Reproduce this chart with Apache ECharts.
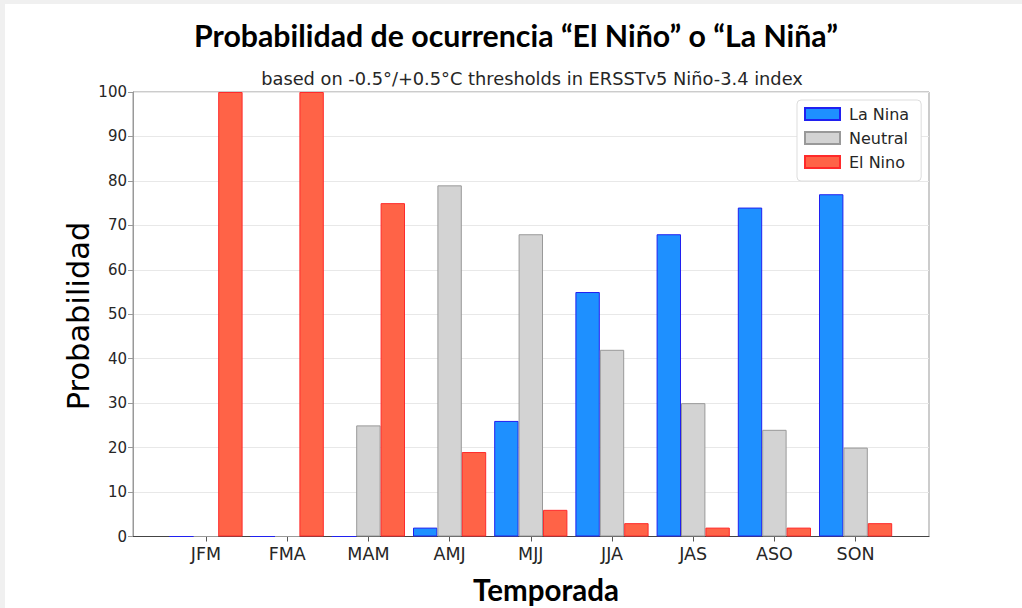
<!DOCTYPE html>
<html><head><meta charset="utf-8">
<script src="https://cdn.jsdelivr.net/npm/echarts@6/dist/echarts.min.js"></script>
<style>
html,body{margin:0;padding:0;background:#f0f0f0;}
#bg{position:absolute;left:5px;top:4px;width:1017px;height:604px;background:#fff;}
#c{position:absolute;left:0;top:0;width:1022px;height:608px;}
</style>
</head><body><div id="bg"></div><div id="c"></div>
<script>
const categories = ['JFM','FMA','MAM','AMJ','MJJ','JJA','JAS','ASO','SON'];
const laNina  = [0, 0, 0, 2, 26, 55, 68, 74, 77];
const neutral = [0, 0, 25, 79, 68, 42, 30, 24, 20];
const elNino  = [100, 100, 75, 19, 6, 3, 2, 2, 3];
const yMin = 0, yMax = 100, yStep = 10;

const chart = echarts.init(document.getElementById('c'), null, {renderer: 'svg'});
const gTop = 92, gBottom = 608 - 536.5;

chart.setOption({
  animation: false,
  backgroundColor: 'transparent',
  grid: [
    {left: 133, right: 1022 - 929, top: gTop, bottom: gBottom, show: true, borderColor: '#999', borderWidth: 1, containLabel: false},
    {left: 165.4, right: 1022 - 896.2, top: gTop, bottom: gBottom, containLabel: false}
  ],
  xAxis: [
    {gridIndex: 0, type: 'value', min: 0, max: 1, show: true,
     axisLine: {show: true, onZero: false, lineStyle: {color: '#444', width: 1}},
     axisTick: {show: false}, axisLabel: {show: false}, splitLine: {show: false}},
    {gridIndex: 1, type: 'category', data: categories, boundaryGap: true,
     axisLine: {show: false},
     axisTick: {show: true, alignWithLabel: true, length: 5, lineStyle: {color: '#555'}},
     axisLabel: {margin: 8, fontFamily: 'DejaVu Sans', fontSize: 17.5, color: '#262626'},
     splitLine: {show: false}}
  ],
  yAxis: [
    {gridIndex: 0, type: 'value', min: yMin, max: yMax, interval: yStep,
     axisLine: {show: true, lineStyle: {color: '#999'}},
     axisTick: {show: true, length: 5, lineStyle: {color: '#999'}},
     axisLabel: {margin: 6, fontFamily: 'DejaVu Sans', fontSize: 15, color: '#262626'},
     splitLine: {show: true, lineStyle: {color: '#e8e8e8', width: 1}}},
    {gridIndex: 1, type: 'value', min: yMin, max: yMax, interval: yStep, show: false}
  ],
  legend: {
    orient: 'vertical', left: 797, top: 100,
    icon: 'rect',
    itemWidth: 35, itemHeight: 12, itemGap: 8,
    padding: [6, 12, 11, 7],
    backgroundColor: '#fff', borderColor: '#ddd', borderWidth: 1, borderRadius: 4,
    textStyle: {fontFamily: 'DejaVu Sans', fontSize: 16, color: '#262626', padding: [0, 0, 0, 4]},
    data: ['La Nina', 'Neutral', 'El Nino']
  },
  series: [
    {name: 'La Nina', type: 'bar', xAxisIndex: 1, yAxisIndex: 1, data: laNina,
     barWidth: 24.4, barGap: '0%',
     itemStyle: {color: '#1E90FF', borderColor: '#2020f0', borderWidth: 1}},
    {name: 'Neutral', type: 'bar', xAxisIndex: 1, yAxisIndex: 1, data: neutral,
     barWidth: 24.4, barGap: '0%',
     itemStyle: {color: '#D3D3D3', borderColor: '#999', borderWidth: 1}},
    {name: 'El Nino', type: 'bar', xAxisIndex: 1, yAxisIndex: 1, data: elNino,
     barWidth: 24.4, barGap: '0%',
     itemStyle: {color: '#FF6347', borderColor: '#ff2a2a', borderWidth: 1}}
  ],
  graphic: [
    {type: 'text', x: 516, y: 35, silent: true,
     style: {text: 'Probabilidad de ocurrencia “El Niño” o “La Niña”', fontFamily: 'Lato', fontWeight: 'bold', fontSize: 30.3, fill: '#000', align: 'center', verticalAlign: 'middle'}},
    {type: 'text', x: 532, y: 78, silent: true,
     style: {text: 'based on -0.5°/+0.5°C thresholds in ERSSTv5 Niño-3.4 index', fontFamily: 'DejaVu Sans', fontSize: 17.8, fill: '#262626', align: 'center', verticalAlign: 'middle'}},
    {type: 'text', x: 78, y: 316, rotation: Math.PI / 2, silent: true,
     style: {text: 'Probabilidad', fontFamily: 'DejaVu Sans', fontSize: 30.5, fill: '#000', align: 'center', verticalAlign: 'middle'}},
    {type: 'text', x: 546, y: 589, silent: true,
     style: {text: 'Temporada', fontFamily: 'Lato', fontWeight: 'bold', fontSize: 29.5, fill: '#000', align: 'center', verticalAlign: 'middle'}}
  ]
});
</script>
</body></html>
